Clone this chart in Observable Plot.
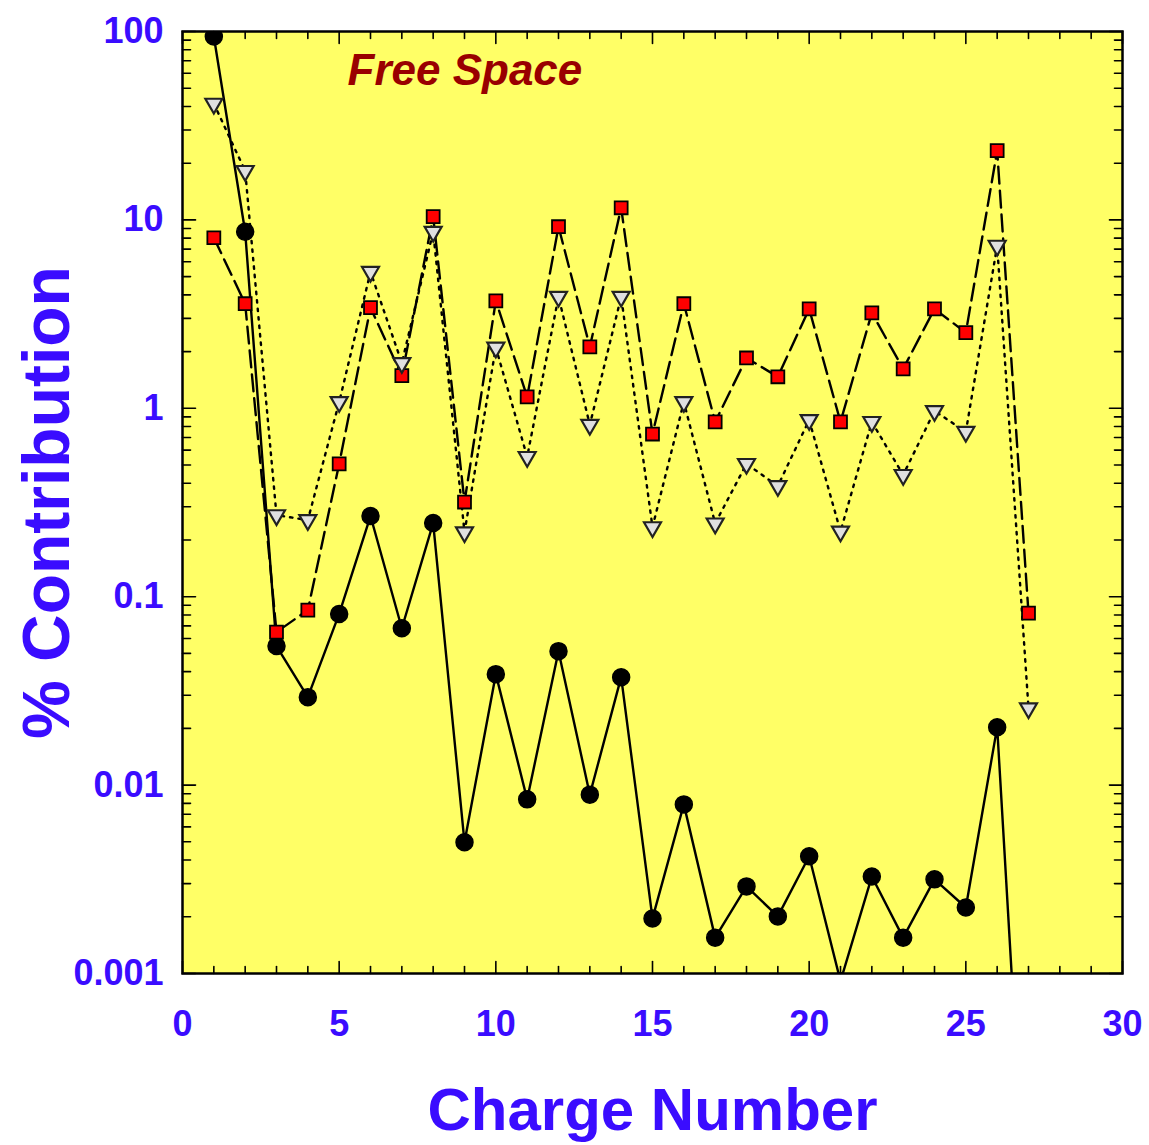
<!DOCTYPE html>
<html><head><meta charset="utf-8">
<script src="https://cdn.jsdelivr.net/npm/d3@7"></script>
<script src="https://cdn.jsdelivr.net/npm/@observablehq/plot@0.6"></script>
<style>html,body{margin:0;padding:0;background:#fff}#chart svg{display:block}</style>
</head><body><div id="chart"></div>
<script>
const charge = [1,2,3,4,5,6,7,8,9,10,11,12,13,14,15,16,17,18,19,20,21,22,23,24,25,26,27];
const circleValues = [94,8.65,0.0547,0.0293,0.081,0.268,0.068,0.246,0.00497,0.0388,0.0084,0.0514,0.0089,0.0374,0.00196,0.0079,0.00155,0.0029,0.00201,0.00419,0.00091,0.00327,0.00155,0.00316,0.00224,0.0203,0.00003];
const squareValues = [8.04,3.59,0.0649,0.0849,0.507,3.42,1.49,10.4,0.318,3.72,1.15,9.2,2.12,11.6,0.73,3.59,0.847,1.85,1.47,3.37,0.847,3.21,1.62,3.37,2.52,23.3,0.0818];
const triangleValues = [41.4,18.2,0.271,0.255,1.08,5.3,1.74,8.65,0.22,2.1,0.552,3.91,0.817,3.91,0.234,1.08,0.245,0.507,0.387,0.867,0.222,0.847,0.443,0.968,0.75,7.3,0.0256];
const xTickValues = [0,5,10,15,20,25,30];
const yTickValues = [0.001,0.01,0.1,1,10,100];
const yTickLabels = ["0.001","0.01","0.1","1","10","100"];
const titleText = "Free Space";
const xLabel = "Charge Number";
const yLabel = "% Contribution";

const rows = (vals) => charge.map((c, i) => ({charge: c, value: vals[i]}));
const circles = rows(circleValues);
const squares = rows(squareValues);
const triangles = rows(triangleValues);

const xMinor = d3.range(0, 31).filter(v => v % 5 !== 0);
const yMinor = [];
for (const dec of [0.001,0.01,0.1,1,10]) for (let k = 2; k <= 9; k++) yMinor.push(+(dec * k).toPrecision(3));

const tickShape = {draw(context, l) { context.moveTo(0, 0); context.lineTo(0, -l); }};
const tickMarks = (data, channel, anchor, rotate, length) =>
  Plot.vector(data, {[channel]: d => d, frameAnchor: anchor, rotate, length, anchor: "start", shape: tickShape, stroke: "black", strokeWidth: 1.6});

const blue = "#3a0cff";
const font = "'Liberation Sans', Arial, Helvetica, sans-serif";

const chart = Plot.plot({
  width: 1149,
  height: 1145,
  marginLeft: 182,
  marginRight: 27,
  marginTop: 31,
  marginBottom: 172,
  style: {fontFamily: font, background: "white"},
  x: {domain: [0, 30]},
  y: {type: "log", domain: [0.001, 100]},
  marks: [
    Plot.frame({fill: "#ffff66", stroke: "none"}),
    Plot.line(circles, {x: "charge", y: "value", stroke: "black", strokeWidth: 2.4, clip: true}),
    Plot.line(squares, {x: "charge", y: "value", stroke: "black", strokeWidth: 2.4, strokeDasharray: "17,7", clip: true}),
    Plot.line(triangles, {x: "charge", y: "value", stroke: "black", strokeWidth: 2.4, strokeDasharray: "2.5,6", clip: true}),
    Plot.dot(circles, {x: "charge", y: "value", r: 8.5, fill: "black", stroke: "black", clip: true}),
    Plot.dot(squares, {x: "charge", y: "value", symbol: "square", r: 7.3, fill: "#ff0000", stroke: "black", strokeWidth: 1.8, clip: true}),
    Plot.dot(triangles, {x: "charge", y: "value", symbol: "triangle", rotate: 180, r: 6.3, fill: "#e0e0e0", stroke: "#222", strokeWidth: 2.2, clip: true}),
    tickMarks(xMinor, "x", "bottom", 0, 7),
    tickMarks(xTickValues, "x", "bottom", 0, 12),
    tickMarks(xMinor, "x", "top", 180, 7),
    tickMarks(xTickValues, "x", "top", 180, 12),
    tickMarks(yMinor, "y", "left", 90, 8),
    tickMarks(yTickValues, "y", "left", 90, 13),
    tickMarks(yMinor, "y", "right", -90, 8),
    tickMarks(yTickValues, "y", "right", -90, 13),
    Plot.frame({stroke: "black", strokeWidth: 2.5}),
    Plot.axisX({ticks: xTickValues, tickSize: 0, tickPadding: 37, tickFormat: d => String(d), fontSize: 36, fontWeight: "bold", fill: blue, label: null}),
    Plot.axisY({ticks: yTickValues, tickSize: 0, tickPadding: 19, tickFormat: d => yTickLabels[yTickValues.indexOf(d)], fontSize: 36, fontWeight: "bold", fill: blue, label: null}),
    Plot.text([titleText], {frameAnchor: "top-left", dx: 165, dy: 39, textAnchor: "start", lineAnchor: "middle", fontSize: 44, fontWeight: "bold", fontStyle: "italic", fill: "#990000"}),
    Plot.text([xLabel], {frameAnchor: "bottom", dy: 137, textAnchor: "middle", lineAnchor: "middle", fontSize: 60, fontWeight: "bold", fill: blue}),
    Plot.text([yLabel], {frameAnchor: "left", dx: -135, rotate: -90, textAnchor: "middle", lineAnchor: "middle", fontSize: 66, fontWeight: "bold", fill: blue})
  ]
});
document.getElementById("chart").appendChild(chart);
</script>
</body></html>
